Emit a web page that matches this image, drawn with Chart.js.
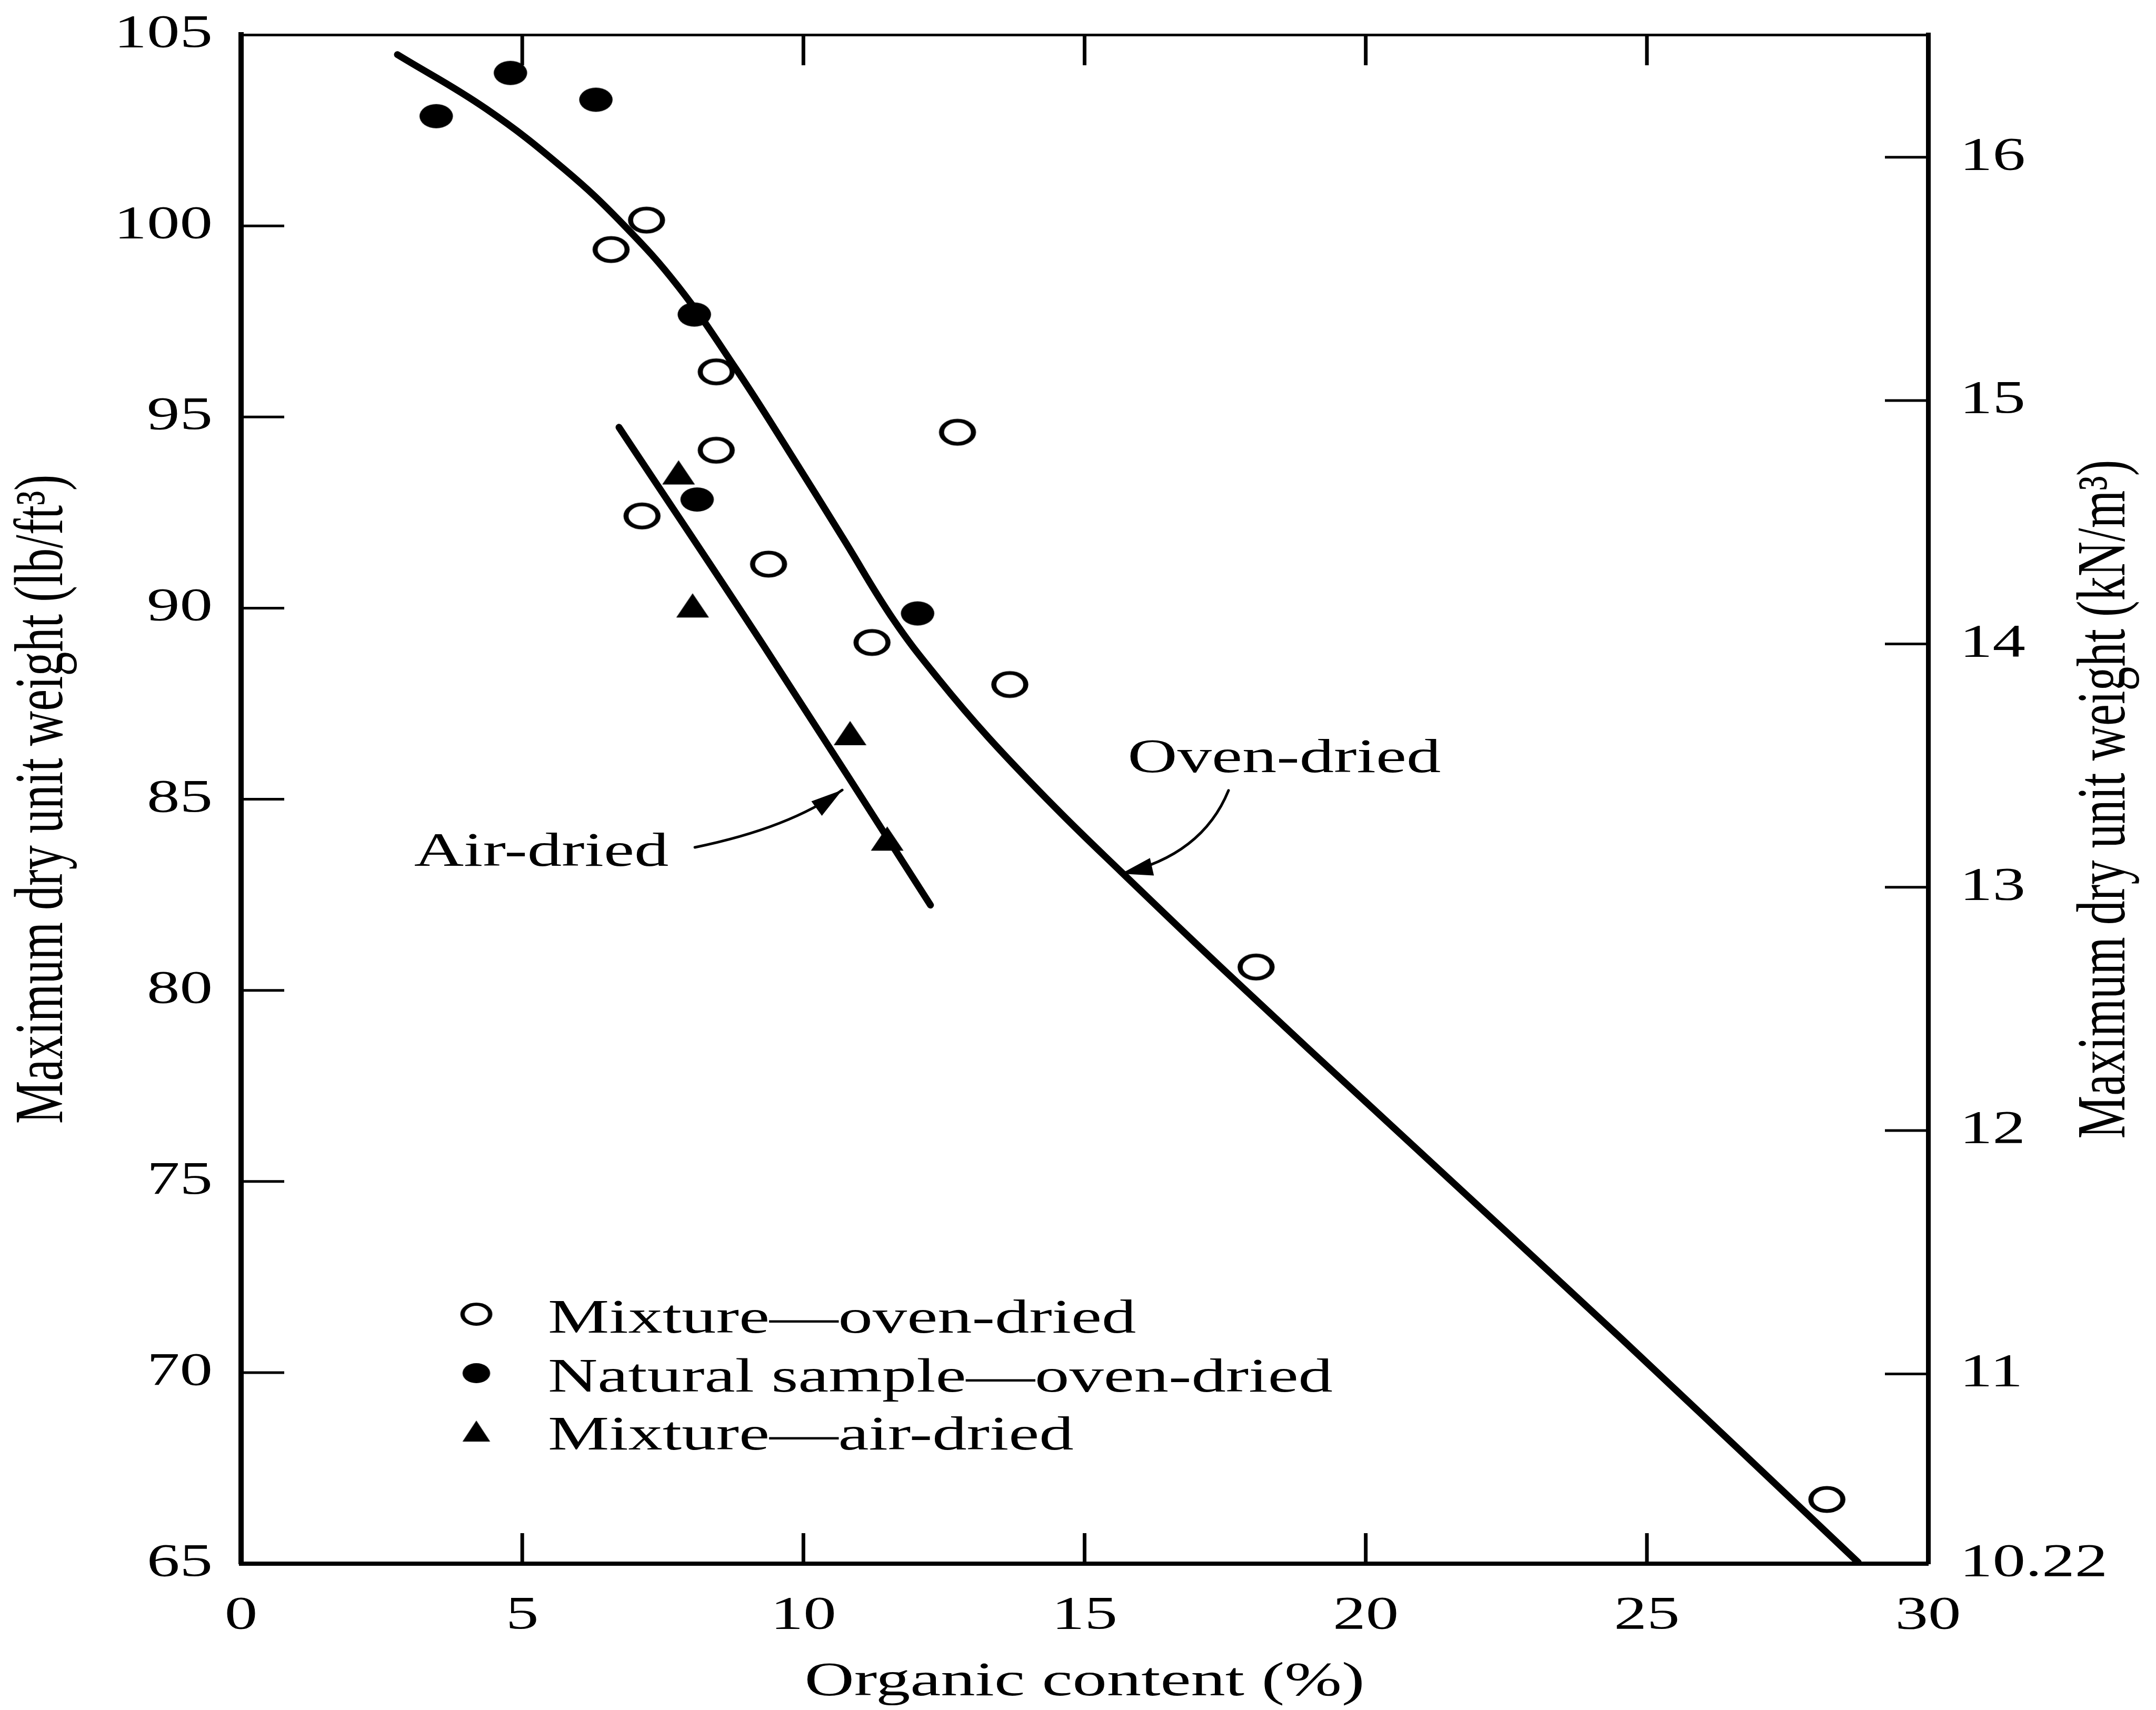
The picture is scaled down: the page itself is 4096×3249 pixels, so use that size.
<!DOCTYPE html>
<html>
<head>
<meta charset="utf-8">
<script src="https://cdn.jsdelivr.net/npm/chart.js@4.4.1/dist/chart.umd.min.js"></script>
<style>
html,body{margin:0;padding:0;background:#fff;}
#wrap{width:4096px;height:3249px;}
</style>
</head>
<body>
<div id="wrap"><canvas id="c" width="4096" height="3249" style="width:4096px;height:3249px"></canvas></div>
<script>
// ---------------- DATA ----------------
const seriesLabels = ['Mixture\u2014oven-dried', 'Natural sample\u2014oven-dried', 'Mixture\u2014air-dried'];

const mixOvenX = [6.58, 7.21, 8.45, 8.45, 7.13, 9.38, 12.74, 11.22, 13.67, 18.05, 28.2];
const mixOvenY = [99.38, 100.15, 96.18, 94.13, 92.41, 91.15, 94.6, 89.1, 88.0, 80.61, 66.68];

const natOvenX = [3.47, 4.79, 6.31, 8.06, 8.11, 12.03];
const natOvenY = [102.87, 104.0, 103.3, 97.68, 92.84, 89.86];

const mixAirX = [7.78, 8.03, 10.83, 11.49];
const mixAirY = [93.55, 90.07, 86.73, 83.97];

const ovenCurveX = [2.78, 4.36, 5.75, 6.80, 7.78, 8.80, 9.73, 10.70, 11.60, 12.40, 13.30, 14.50, 15.65, 17.50, 20.50, 24.50, 28.76];
const ovenCurveY = [104.48, 103.06, 101.48, 100.03, 98.40, 96.26, 94.13, 91.84, 89.70, 88.15, 86.60, 84.75, 83.10, 80.50, 76.40, 70.95, 65.03];

const airCurveX = [6.72, 9.30, 12.26];
const airCurveY = [94.73, 89.00, 82.23];

const organicTicks = [0, 5, 10, 15, 20, 25, 30];
const lbTicks = [65, 70, 75, 80, 85, 90, 95, 100, 105];
const knTicks = [10.22, 11, 12, 13, 14, 15, 16];
const LB_TO_KN = 0.157087;

const lineLabels = ['Oven-dried', 'Air-dried'];
// annotation anchors in data units: text centre/baseline, arrow start, control, tip
const ovenNote = {text: [18.55, 85.71], from: [17.56, 85.23], ctrl: [17.09, 83.53], tip: [15.65, 83.05]};
const airNote  = {text: [5.34, 83.26],  from: [8.07, 83.74],  ctrl: [9.76, 84.25],  tip: [10.69, 85.24]};

// ---------------- STYLE ----------------
const K_TEXT = 1.42;   // horizontal stretch of the reference scan (text)
const K_MARK = 1.38;   // horizontal stretch of the reference scan (markers)
const FONT = '"Liberation Serif", "Times New Roman", serif';
const TEXT_SIZE = 92;
const TICK_SIZE = 88;

function toPts(xs, ys) { return xs.map((x, i) => ({x: x, y: ys[i]})); }

function makeMarker(kind, r, lw, base, h) {
  const K = K_MARK;
  const c = document.createElement('canvas');
  let W, H;
  if (kind === 'tri') { W = Math.ceil(base * K) + 4; H = Math.ceil(h) + 4; }
  else { W = Math.ceil(2 * (r + lw) * K) + 4; H = Math.ceil(2 * (r + lw)) + 4; }
  c.width = W; c.height = H;
  const g = c.getContext('2d');
  g.setTransform(K, 0, 0, 1, W / 2, H / 2);
  g.fillStyle = '#000'; g.strokeStyle = '#000';
  if (kind === 'open') {
    g.lineWidth = lw; g.beginPath(); g.arc(0, 0, r, 0, Math.PI * 2); g.stroke();
  } else if (kind === 'fill') {
    g.beginPath(); g.arc(0, 0, r, 0, Math.PI * 2); g.fill();
  } else {
    g.beginPath(); g.moveTo(0, -h / 2); g.lineTo(base / 2, h / 2); g.lineTo(-base / 2, h / 2); g.closePath(); g.fill();
  }
  return c;
}

const mkOpen = makeMarker('open', 22, 7);
const mkFill = makeMarker('fill', 23, 0);
const mkTri = makeMarker('tri', 0, 0, 45, 46);
const lgOpen = makeMarker('open', 19, 6);
const lgFill = makeMarker('fill', 19, 0);
const lgTri = makeMarker('tri', 0, 0, 38, 40);

// ---------------- PLUGINS ----------------
const stretchPlugin = {
  id: 'stretchText',
  beforeInit(chart) {
    const ctx = chart.ctx;
    const base = CanvasRenderingContext2D.prototype.fillText;
    const K = K_TEXT;
    ctx.fillText = function (t, x, y, mw) {
      const m = this.getTransform();
      const px = m.a * x + m.c * y + m.e;
      this.save();
      this.setTransform(K, 0, 0, 1, px * (1 - K), 0);
      this.transform(m.a, m.b, m.c, m.d, m.e, m.f);
      if (mw === undefined) base.call(this, t, x, y); else base.call(this, t, x, y, mw);
      this.restore();
    };
  }
};

function arrow(ctx, p0, c, p2, len, half) {
  ctx.beginPath();
  ctx.moveTo(p0.x, p0.y);
  ctx.quadraticCurveTo(c.x, c.y, p2.x, p2.y);
  ctx.stroke();
  const a = Math.atan2(p2.y - c.y, p2.x - c.x);
  const bx = p2.x - len * Math.cos(a), by = p2.y - len * Math.sin(a);
  ctx.beginPath();
  ctx.moveTo(p2.x, p2.y);
  ctx.lineTo(bx + half * Math.sin(a), by - half * Math.cos(a));
  ctx.lineTo(bx - half * Math.sin(a), by + half * Math.cos(a));
  ctx.closePath();
  ctx.fill();
}

const decorPlugin = {
  id: 'decor',
  beforeDraw(chart) {
    const ctx = chart.ctx;
    ctx.save();
    ctx.fillStyle = '#fff';
    ctx.fillRect(0, 0, chart.width, chart.height);
    ctx.restore();
  },
  beforeDatasetsDraw(chart) {
    const ctx = chart.ctx, a = chart.chartArea;
    const xs = chart.scales.x, ys = chart.scales.y, y2 = chart.scales.y2;
    ctx.save();
    ctx.strokeStyle = '#000';
    ctx.lineCap = 'butt';
    const vLen = 58, hLen = 82;
    ctx.lineWidth = 7;
    organicTicks.slice(1, -1).forEach(v => {
      const px = xs.getPixelForValue(v);
      ctx.beginPath(); ctx.moveTo(px, a.bottom); ctx.lineTo(px, a.bottom - vLen); ctx.stroke();
      ctx.beginPath(); ctx.moveTo(px, a.top); ctx.lineTo(px, a.top + vLen); ctx.stroke();
    });
    ctx.lineWidth = 5;
    lbTicks.slice(1, -1).forEach(v => {
      const py = ys.getPixelForValue(v);
      ctx.beginPath(); ctx.moveTo(a.left, py); ctx.lineTo(a.left + hLen, py); ctx.stroke();
    });
    knTicks.slice(1).forEach(v => {
      const py = y2.getPixelForValue(v);
      ctx.beginPath(); ctx.moveTo(a.right, py); ctx.lineTo(a.right - hLen, py); ctx.stroke();
    });
    ctx.restore();
  },
  afterDatasetsDraw(chart) {
    const ctx = chart.ctx, a = chart.chartArea;
    const xs = chart.scales.x, ys = chart.scales.y, y2 = chart.scales.y2;
    const P = (p) => ({x: xs.getPixelForValue(p[0]), y: ys.getPixelForValue(p[1])});
    ctx.save();
    ctx.fillStyle = '#000';
    ctx.strokeStyle = '#000';
    ctx.font = TEXT_SIZE + 'px ' + FONT;

    // annotations
    ctx.textAlign = 'center';
    ctx.textBaseline = 'alphabetic';
    [[ovenNote, lineLabels[0]], [airNote, lineLabels[1]]].forEach(([n, label]) => {
      const t = P(n.text);
      ctx.fillText(label, t.x, t.y);
      ctx.lineWidth = 5;
      ctx.lineCap = 'round';
      arrow(ctx, P(n.from), P(n.ctrl), P(n.tip), 60, 17);
    });

    // legend
    const mk = [lgOpen, lgFill, lgTri];
    const lx = 905, tx = 1041, baseY = [2532, 2644, 2754];
    ctx.textAlign = 'left';
    seriesLabels.forEach((lab, i) => {
      const m = mk[i];
      ctx.drawImage(m, lx - m.width / 2, baseY[i] - 35 - m.height / 2);
      ctx.fillText(lab, tx, baseY[i]);
    });

    // right axis title (reads bottom to top)
    ctx.save();
    ctx.translate(y2.right - 94, (a.top + a.bottom) / 2);
    ctx.rotate(-Math.PI / 2);
    ctx.textAlign = 'center';
    ctx.textBaseline = 'middle';
    ctx.fillText('Maximum dry unit weight (kN/m\u00B3)', 0, 0);
    ctx.restore();

    ctx.restore();
  }
};

// ---------------- CHART ----------------
const tickFont = {family: FONT, size: TICK_SIZE, lineHeight: 1.2};
const titleFont = {family: FONT, size: TEXT_SIZE, lineHeight: 1};
const noPad = s => { s.paddingTop = 0; s.paddingBottom = 0; s.paddingLeft = 0; s.paddingRight = 0; };

new Chart(document.getElementById('c'), {
  type: 'scatter',
  data: {
    datasets: [
      {label: seriesLabels[0], data: toPts(mixOvenX, mixOvenY), pointStyle: mkOpen, pointRadius: 30, showLine: false},
      {label: seriesLabels[1], data: toPts(natOvenX, natOvenY), pointStyle: mkFill, pointRadius: 30, showLine: false},
      {label: seriesLabels[2], data: toPts(mixAirX, mixAirY), pointStyle: mkTri, pointRadius: 30, showLine: false},
      {label: lineLabels[0], data: toPts(ovenCurveX, ovenCurveY), showLine: true, pointRadius: 0,
       borderColor: '#000', borderWidth: 13, borderCapStyle: 'round', borderJoinStyle: 'round',
       tension: 0.4, fill: false},
      {label: lineLabels[1], data: toPts(airCurveX, airCurveY), showLine: true, pointRadius: 0,
       borderColor: '#000', borderWidth: 13, borderCapStyle: 'round', borderJoinStyle: 'round',
       tension: 0.4, fill: false}
    ]
  },
  options: {
    responsive: false,
    animation: false,
    devicePixelRatio: 1,
    layout: {padding: 0, autoPadding: false},
    plugins: {legend: {display: false}, tooltip: {enabled: false}},
    scales: {
      x: {
        type: 'linear', position: 'bottom', min: 0, max: 30,
        afterBuildTicks: s => { s.ticks = organicTicks.map(v => ({value: v})); },
        ticks: {font: tickFont, color: '#000', padding: 47, maxRotation: 0, autoSkip: false},
        grid: {display: false, drawTicks: false},
        border: {display: true, color: '#000', width: 8},
        title: {display: true, text: 'Organic content (%)', font: titleFont, color: '#000', padding: {top: 0, bottom: 6}},
        afterFit: s => { s.height = 278; noPad(s); }
      },
      x2: {
        type: 'linear', position: 'top', min: 0, max: 30,
        ticks: {display: false},
        grid: {display: false, drawTicks: false},
        border: {display: true, color: '#000', width: 5},
        afterFit: s => { s.height = 66; noPad(s); }
      },
      y: {
        type: 'linear', position: 'left', min: 65, max: 105,
        afterBuildTicks: s => { s.ticks = lbTicks.map(v => ({value: v})); },
        ticks: {font: tickFont, color: '#000', padding: 54, autoSkip: false},
        grid: {display: false, drawTicks: false},
        border: {display: true, color: '#000', width: 10},
        title: {display: true, text: 'Maximum dry unit weight (lb/ft\u00B3)', font: titleFont, color: '#000', padding: {top: 38, bottom: 0}},
        afterFit: s => { s.width = 458; noPad(s); }
      },
      y2: {
        type: 'linear', position: 'right', min: knTicks[0], max: knTicks[0] + (lbTicks[lbTicks.length - 1] - lbTicks[0]) * LB_TO_KN,
        afterBuildTicks: s => { s.ticks = knTicks.map(v => ({value: v})); },
        ticks: {font: tickFont, color: '#000', padding: 60, autoSkip: false, callback: v => String(v)},
        grid: {display: false, drawTicks: false},
        border: {display: true, color: '#000', width: 9},
        afterFit: s => { s.width = 433; noPad(s); }
      }
    }
  },
  plugins: [stretchPlugin, decorPlugin]
});
</script>
</body>
</html>
